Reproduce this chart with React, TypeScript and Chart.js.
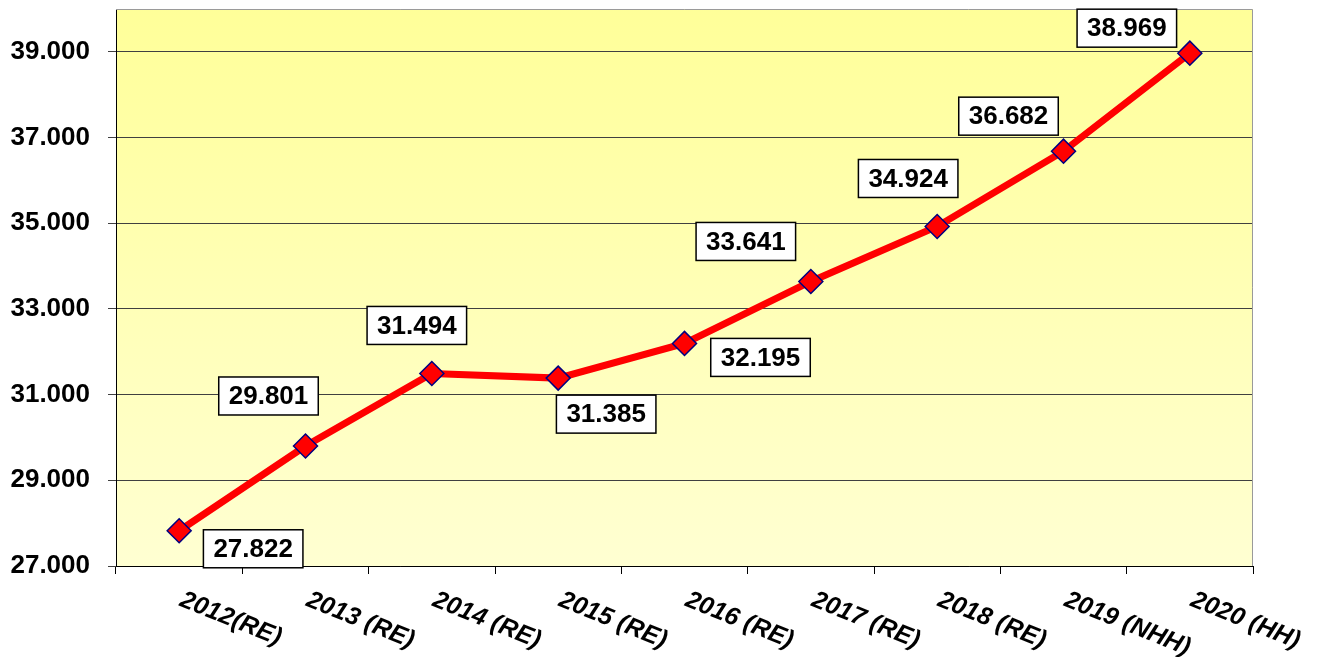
import React, { useEffect, useRef } from "react";
import { Chart, registerables } from "chart.js";

Chart.register(...registerables);

const categories = [
  "2012(RE)",
  "2013 (RE)",
  "2014 (RE)",
  "2015 (RE)",
  "2016 (RE)",
  "2017 (RE)",
  "2018 (RE)",
  "2019 (NHH)",
  "2020 (HH)",
];
const values = [27822, 29801, 31494, 31385, 32195, 33641, 34924, 36682, 38969];
const yTicks = [27000, 29000, 31000, 33000, 35000, 37000, 39000];
const yMin = 27000;
const yMax = 40000;

// label box centre offsets relative to each point (px)
const labelOffsets: [number, number][] = [
  [74, 18],
  [-37, -50],
  [-15, -48],
  [48, 36],
  [76, 14],
  [-65, -40],
  [-29, -48],
  [-55, -35],
  [-63, -25],
];

const FONT = "'Liberation Sans', Arial, sans-serif";

const fmt = (v: number) =>
  Math.round(v)
    .toString()
    .replace(/\B(?=(\d{3})+(?!\d))/g, ".");

const bgPlugin = {
  id: "bgPlugin",
  beforeDraw(chart: any) {
    const { ctx, chartArea } = chart;
    ctx.save();
    ctx.fillStyle = "#ffffff";
    ctx.fillRect(0, 0, chart.width, chart.height);
    const g = ctx.createLinearGradient(0, chartArea.top, 0, chartArea.bottom);
    g.addColorStop(0, "#FFFF99");
    g.addColorStop(1, "#FFFFD2");
    ctx.fillStyle = g;
    ctx.fillRect(
      chartArea.left,
      chartArea.top,
      chartArea.right - chartArea.left,
      chartArea.bottom - chartArea.top
    );
    ctx.restore();
  },
};

const overlayPlugin = {
  id: "overlayPlugin",
  afterDatasetsDraw(chart: any) {
    const { ctx, chartArea } = chart;
    ctx.save();
    // top + right frame
    ctx.strokeStyle = "#9a9a9a";
    ctx.lineWidth = 1;
    ctx.beginPath();
    ctx.moveTo(chartArea.left, chartArea.top + 0.5);
    ctx.lineTo(chartArea.right - 0.5, chartArea.top + 0.5);
    ctx.lineTo(chartArea.right - 0.5, chartArea.bottom);
    ctx.stroke();

    // data labels
    const meta = chart.getDatasetMeta(0);
    ctx.font = `bold 26px ${FONT}`;
    ctx.textAlign = "center";
    ctx.textBaseline = "middle";
    meta.data.forEach((pt: any, i: number) => {
      const txt = fmt(values[i]);
      const [dx, dy] = labelOffsets[i];
      const cx = pt.x + dx;
      const cy = pt.y + dy;
      const w = ctx.measureText(txt).width + 20;
      const h = 38;
      ctx.fillStyle = "#ffffff";
      ctx.fillRect(cx - w / 2, cy - h / 2, w, h);
      ctx.strokeStyle = "#000000";
      ctx.lineWidth = 1.5;
      ctx.strokeRect(cx - w / 2, cy - h / 2, w, h);
      ctx.fillStyle = "#000000";
      ctx.fillText(txt, cx, cy + 1);
    });
    ctx.restore();
  },
  afterDraw(chart: any) {
    const { ctx } = chart;
    const xs = chart.scales.x;
    ctx.save();
    ctx.font = `italic bold 25px ${FONT}`;
    ctx.fillStyle = "#000000";
    ctx.textAlign = "left";
    ctx.textBaseline = "middle";
    const ang = (22 * Math.PI) / 180;
    categories.forEach((c, i) => {
      const x = xs.getPixelForValue(i) + 2;
      const y = 599;
      ctx.save();
      ctx.translate(x, y);
      ctx.rotate(ang);
      ctx.fillText(c, 0, 0);
      ctx.restore();
    });
    ctx.restore();
  },
};

export default function App() {
  const ref = useRef<HTMLCanvasElement | null>(null);

  useEffect(() => {
    if (!ref.current) return;
    const chart = new Chart(ref.current, {
      type: "line",
      data: {
        labels: categories,
        datasets: [
          {
            data: values,
            borderColor: "#FF0000",
            borderWidth: 7,
            tension: 0,
            pointStyle: "rectRot",
            pointRadius: 12,
            pointBackgroundColor: "#FF0000",
            pointBorderColor: "#000080",
            pointBorderWidth: 1.5,
            fill: false,
            clip: false,
          },
        ],
      },
      options: {
        animation: false,
        responsive: false,
        events: [],
        layout: {
          autoPadding: false,
          padding: { top: 9, right: 69, left: 0, bottom: 0 },
        },
        plugins: {
          legend: { display: false },
          tooltip: { enabled: false },
          title: { display: false },
        },
        scales: {
          x: {
            type: "category",
            offset: true,
            afterFit: (s: any) => {
              s.height = 91;
              s.paddingLeft = 0;
              s.paddingRight = 0;
            },
            ticks: { display: false },
            grid: {
              offset: true,
              drawOnChartArea: false,
              drawTicks: true,
              tickLength: 8,
              color: "#000000",
              lineWidth: 1,
            },
            border: { display: true, color: "#000000", width: 1 },
          },
          y: {
            min: yMin,
            max: yMax,
            afterBuildTicks: (s: any) => {
              s.ticks = yTicks.map((v) => ({ value: v }));
            },
            afterFit: (s: any) => {
              s.width = 116;
              s.paddingTop = 0;
              s.paddingBottom = 0;
            },
            ticks: {
              color: "#000000",
              padding: 18,
              font: { family: FONT, size: 26, weight: "bold" },
              callback: (v: any) => fmt(Number(v)),
            },
            grid: {
              color: "#404040",
              lineWidth: 1,
              drawTicks: true,
              tickLength: 8,
            },
            border: { display: true, color: "#000000", width: 1 },
          },
        },
      } as any,
      plugins: [bgPlugin, overlayPlugin],
    });
    return () => chart.destroy();
  }, []);

  return (
    <div
      style={{
        position: "fixed",
        left: 0,
        top: 0,
        width: 1322,
        height: 657,
        background: "#fff",
      }}
    >
      <canvas ref={ref} width={1322} height={657} style={{ display: "block" }} />
    </div>
  );
}
